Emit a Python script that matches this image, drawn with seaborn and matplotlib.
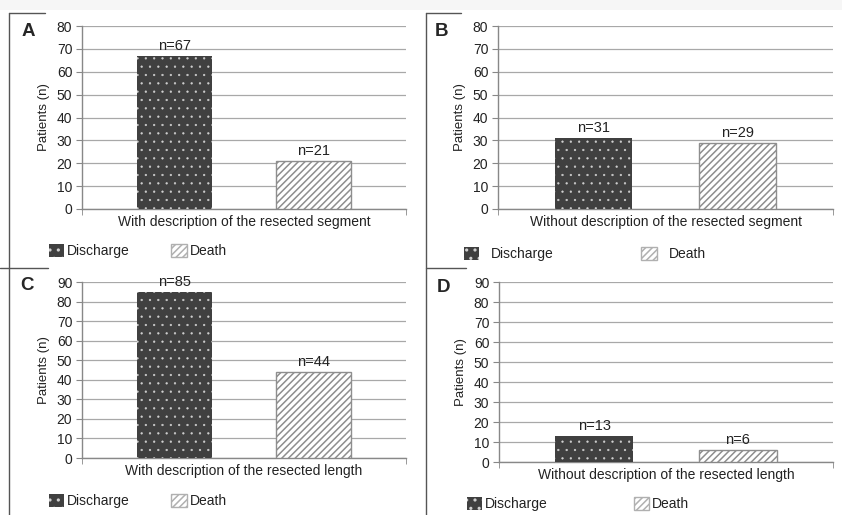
import matplotlib
matplotlib.use("Agg")
import matplotlib.pyplot as plt
from matplotlib.patches import Patch, Rectangle
from matplotlib.lines import Line2D
import seaborn as sns
import pandas as pd

sns.set_style("white")
plt.rcParams['font.family'] = ['Liberation Sans', 'DejaVu Sans']
plt.rcParams['hatch.linewidth'] = 1.1

# ---------------- data ----------------
outcomes = ["Discharge", "Death"]
panel_letters = ["A", "B", "C", "D"]
categories = ["With description of the resected segment",
              "Without description of the resected segment",
              "With description of the resected length",
              "Without description of the resected length"]
discharge_vals = [67, 31, 85, 13]
death_vals = [21, 29, 44, 6]
y_max = [80, 80, 90, 90]

# ---------------- styling ----------------
W, H = 842, 515
DARK = "#404040"
DOT = "#d0d0d0"
HATCH_GRAY = "#8e8e8e"
GRID = "#a8a8a8"
SPINE = "#888888"
TXT = "#222222"

fig = plt.figure(figsize=(W / 100, H / 100), dpi=100)

def px(x0, y0, x1, y1):
    return [x0 / W, 1 - y1 / H, (x1 - x0) / W, (y1 - y0) / H]

def set_hlw(p, lw):
    if hasattr(p, "set_hatch_linewidth"):
        p.set_hatch_linewidth(lw)
    else:
        p._hatch_linewidth = lw

axes_px = [(82, 26, 406, 209), (498, 26, 833, 209),
           (82, 282, 406, 458), (499, 282, 833, 462)]
letter_pos = [(28, 31), (441, 31), (27, 286), (443, 288)]
legend_cfg = [  # (x of patch left, y of center, handletextpad, columnspacing)
    (49, 251, 0.2, 3.0),
    (464, 254, 0.85, 6.3),
    (49, 501, 0.2, 3.0),
    (467, 504, 0.2, 6.2),
]

fig.add_artist(Rectangle((0, 1 - 10 / H), 1, 10 / H, transform=fig.transFigure,
                         facecolor="#f6f6f6", edgecolor="none", zorder=0))

def fline(xs, ys):
    fig.add_artist(Line2D([x / W for x in xs], [1 - y / H for y in ys],
                          transform=fig.transFigure, color="#555555", lw=1.0))

fline([9, 9], [13, 515])
fline([9, 45], [13, 13])
fline([426, 426], [13, 515])
fline([426, 461], [13, 13])
fline([0, 48], [268, 268])
fline([426, 466], [268, 268])

def style_discharge(p):
    p.set_facecolor(DARK)
    p.set_edgecolor(DOT)
    p.set_hatch("..")
    p.set_linewidth(0)
    set_hlw(p, 0.4)

def style_death(p, edge):
    p.set_facecolor("white")
    p.set_edgecolor(edge)
    p.set_hatch("/////")
    p.set_linewidth(1.0)
    set_hlw(p, 1.1)

for i in range(4):
    ax = fig.add_axes(px(*axes_px[i]))
    df = pd.DataFrame({
        "category": [categories[i]] * 2,
        "outcome": outcomes,
        "patients": [discharge_vals[i], death_vals[i]],
    })
    sns.barplot(data=df, x="category", y="patients", hue="outcome",
                hue_order=outcomes, width=0.86, gap=0.46, legend=False,
                palette=[DARK, "white"], ax=ax, zorder=3)
    for b in ax.containers[0]:
        style_discharge(b)
    for b in ax.containers[1]:
        style_death(b, HATCH_GRAY)
    for c in ax.containers:
        ax.bar_label(c, fmt="n={:.0f}", padding=2, fontsize=10.5, color=TXT)

    ax.set_ylim(0, y_max[i])
    ax.set_yticks(range(0, y_max[i] + 1, 10))
    ax.set_xlim(-0.5, 0.5)
    ax.yaxis.grid(True, color=GRID, lw=0.9, zorder=0)
    ax.set_axisbelow(True)
    for s in ["top", "right"]:
        ax.spines[s].set_visible(False)
    for s in ["left", "bottom"]:
        ax.spines[s].set_color(SPINE)
        ax.spines[s].set_linewidth(1.0)
    ax.tick_params(axis="y", which="major", length=4, color=SPINE,
                   labelsize=10, pad=3, left=True, labelcolor=TXT)
    ax.tick_params(axis="x", which="major", length=0, pad=4,
                   labelsize=10, labelcolor=TXT)
    ax.set_xticks([-0.5, 0.5], minor=True)
    ax.tick_params(axis="x", which="minor", length=4, color=SPINE, bottom=True)
    ax.set_xlabel("")
    ax.set_ylabel("Patients (n)", fontsize=9.5, labelpad=5, color=TXT)

    lx, ly = letter_pos[i]
    fig.text(lx / W, 1 - ly / H, panel_letters[i], fontsize=13.5, fontweight="bold",
             ha="center", va="center")

    hx, hy, htp, cs = legend_cfg[i]
    h1 = Patch(label=outcomes[0])
    h2 = Patch(label=outcomes[1])
    style_discharge(h1)
    style_death(h2, "#b0b0b0")
    fig.legend([h1, h2], outcomes, loc="center left",
               bbox_to_anchor=(hx / W, 1 - hy / H), ncol=2, frameon=False,
               fontsize=10, handlelength=1.1, handleheight=1.1,
               handletextpad=htp, columnspacing=cs, borderpad=0,
               borderaxespad=0, labelcolor=TXT)

fig.savefig("out.png", dpi=100, facecolor="white")
